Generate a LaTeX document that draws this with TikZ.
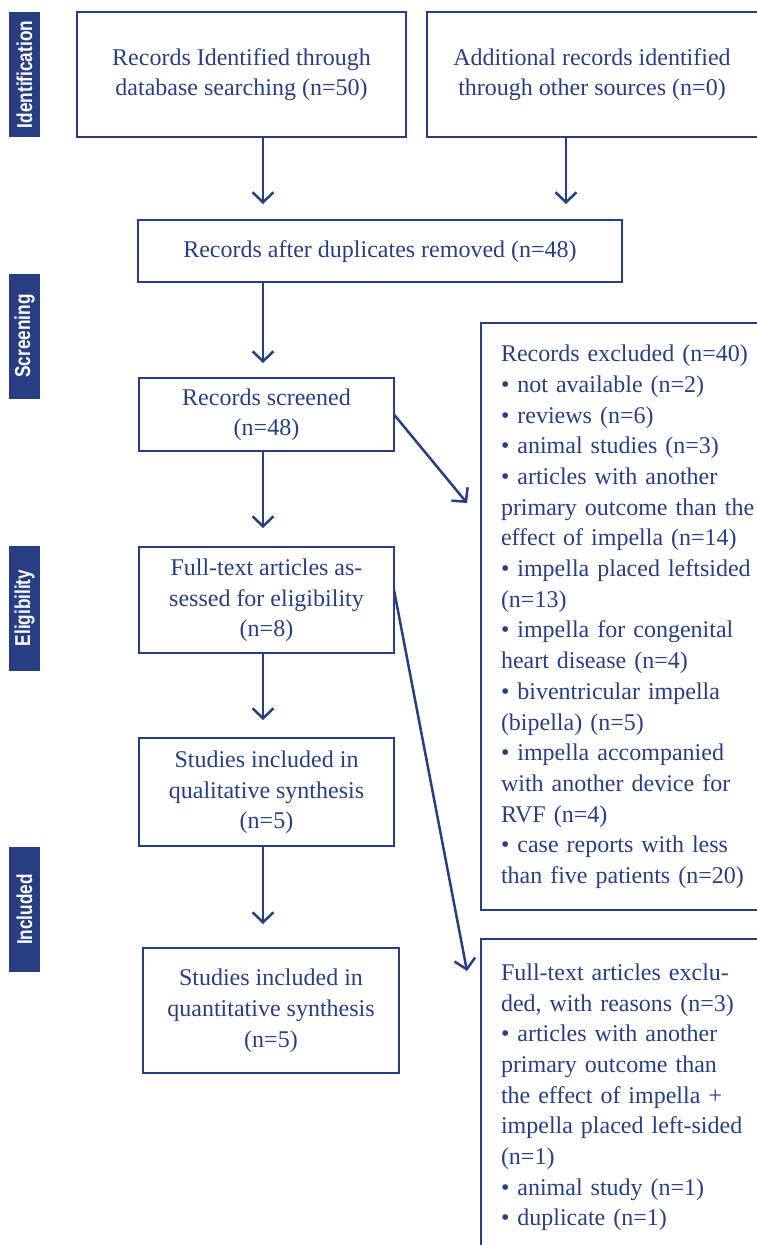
\documentclass[tikz,border=0pt]{standalone}
\usepackage{fontspec}
\setmainfont{Liberation Serif}
\newfontfamily\labfont[FakeStretch=0.8]{Liberation Sans}
\usetikzlibrary{arrows.meta,calc}
\definecolor{navy}{RGB}{40,62,130}
\begin{document}
\begin{tikzpicture}[x=1pt,y=-1pt,
  box/.style={draw=navy, line width=2.8pt, text=navy, font=\fontsize{24}{30.7}\selectfont,
    align=center, inner sep=0pt, outer sep=0pt},
  exbox/.style={box, align=left, anchor=north west, text width=280pt, inner xsep=20pt,
    inner ysep=0pt, minimum width=320pt},
  stage/.style={fill=navy, text=white, rotate=90, minimum width=125pt, minimum height=31pt,
    inner sep=0pt, font=\labfont\bfseries\fontsize{21.5}{24}\selectfont},
  arr/.style={draw=navy, line width=2.5pt, -{Straight Barb[length=10pt,width=21pt]}},
]
\useasboundingbox (0,0) rectangle (757,1245);

% stage labels
\node[stage] (s1) at (24.5,74.5) {Identification};
\node[stage] (s2) at (24.5,336) {Screening};
\node[stage] (s3) at (24.5,608) {Eligibility};
\node[stage] (s4) at (24.5,909.5) {Included};

% main boxes
\node[box, minimum width=329pt, minimum height=125pt] (b1) at (241.5,74.5)
  {\strut Records Identified through\\\strut database searching (n=50)};
\node[box, minimum width=336pt, minimum height=125pt] (b2) at (595,74.5)
  {\strut Additional records identified\hspace*{6pt}\\\strut through other sources (n=0)\hspace*{6pt}};
\node[box, minimum width=484pt, minimum height=62pt] (b3) at (380,251)
  {\strut Records after duplicates removed (n=48)};
\node[box, minimum width=255pt, minimum height=73pt] (b4) at (266.5,414.5)
  {\strut Records screened\\\strut (n=48)};
\node[box, minimum width=255pt, minimum height=106pt] (b5) at (266.5,600)
  {\strut Full-text articles as-\\\strut sessed for eligibility\\\strut (n=8)};
\node[box, minimum width=255pt, minimum height=108pt] (b6) at (266.5,792)
  {\strut Studies included in\\\strut qualitative synthesis\\\strut (n=5)};
\node[box, minimum width=256pt, minimum height=125pt] (b7) at (271,1010.5)
  {\strut Studies included in\\\strut quantitative synthesis\\\strut (n=5)};

% exclusion boxes
\node[exbox, minimum height=587pt] (e1) at (481,323)
  {\strut Records excluded (n=40)\\
   • not available (n=2)\\
   • reviews (n=6)\\
   • animal studies (n=3)\\
   • articles with another\\
   primary outcome than the\\
   effect of impella (n=14)\\
   • impella placed leftsided\\
   (n=13)\\
   • impella for congenital\\
   heart disease (n=4)\\
   • biventricular impella\\
   (bipella) (n=5)\\
   • impella accompanied\\
   with another device for\\
   RVF (n=4)\\
   • case reports with less\\
   than five patients (n=20)\strut};
\node[exbox, minimum height=316pt] (e2) at (481,939)
  {\strut Full-text articles exclu-\\
   ded, with reasons (n=3)\\
   • articles with another\\
   primary outcome than\\
   the effect of impella +\\
   impella placed left-sided\\
   (n=1)\\
   • animal study (n=1)\\
   • duplicate (n=1)\strut};

% connectors
\coordinate (c1) at (263,0);
\coordinate (c2) at (566,0);
\coordinate (t1) at (467,503);
\coordinate (t2) at (467,971);
\draw[arr, shorten >=16pt] (b1.south -| c1) -- (b3.north -| c1);
\draw[arr, shorten >=16pt] (b2.south -| c2) -- (b3.north -| c2);
\draw[arr, shorten >=15pt] (b3.south -| c1) -- (b4.north -| c1);
\draw[arr, shorten >=19pt] (b4.south -| c1) -- (b5.north -| c1);
\draw[arr, shorten >=18pt] (b5.south -| c1) -- (b6.north -| c1);
\draw[arr, shorten >=24pt] (b6.south -| c1) -- (b7.north -| c1);
\draw[arr] (b4.east) -- (t1);
\draw[arr] ($(b5.east)+(0,-10)$) -- (t2);
\end{tikzpicture}
\end{document}
